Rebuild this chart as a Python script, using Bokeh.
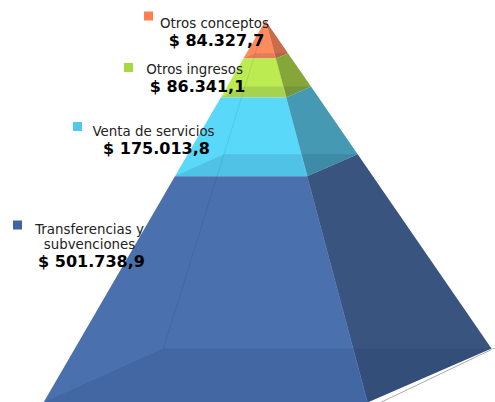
from bokeh.plotting import figure
from bokeh.embed import file_html
from bokeh.resources import INLINE
from bokeh.core.properties import value

# Data, top of the pyramid first
categories = ["Otros conceptos", "Otros ingresos", "Venta de servicios", "Transferencias y subvenciones"]
values = [84327.7, 86341.1, 175013.8, 501738.9]
value_labels = ["$ 84.327,7", "$ 86.341,1", "$ 175.013,8", "$ 501.738,9"]
front_colors = ["#FF8A5C", "#BBEB50", "#5AD8FA", "#4A70AE"]
side_colors = ["#C96C4B", "#86A63A", "#4599B2", "#39547F"]
marker_colors = ["#FF7F50", "#A8D840", "#4FC8EA", "#3F65A0"]

# Layout (page pixels)
APEX = (265, 20)
LEFT = (43, 402)
FRONT = (367, 402)
RIGHT = (491, 348)
BACK = (163, 348)
marker_x = [148, 128, 77, 17]
marker_y = [15.5, 67, 126, 224.5]
name_rows = [[("Otros conceptos", 214, 23)], [("Otros ingresos", 194, 69)],
             [("Venta de servicios", 153, 131)],
             [("Transferencias y", 89, 229), ("subvenciones", 89, 244)]]
value_pos = [(216, 40), (197, 86), (156, 148), (91, 261)]

p = figure(width=495, height=402, x_range=(0, 495), y_range=(402, 0),
           output_backend="svg", toolbar_location=None, min_border=0)
p.axis.visible = False
p.grid.visible = False
p.outline_line_color = None
p.background_fill_color = "white"


def at(corner, t):
    return (APEX[0] + t * (corner[0] - APEX[0]), APEX[1] + t * (corner[1] - APEX[1]))


total = sum(values)
fractions = []
c = 0.0
for v in values:
    fractions.append((c / total, (c + v) / total))
    c += v

# ground shadow
p.line([RIGHT[0], RIGHT[0] + 4], [RIGHT[1], RIGHT[1]], line_color="#CCCCCC", line_width=1)
p.line([RIGHT[0], FRONT[0] + 13], [RIGHT[1] + 1, FRONT[1]], line_color="#AAAAAA", line_width=1)

for i, (t0, t1) in enumerate(fractions):
    lt, ft, rt = at(LEFT, t0), at(FRONT, t0), at(RIGHT, t0)
    lb, fb, rb, bb = at(LEFT, t1), at(FRONT, t1), at(RIGHT, t1), at(BACK, t1)
    bt = at(BACK, t0)
    p.patch([lt[0], ft[0], fb[0], lb[0]], [lt[1], ft[1], fb[1], lb[1]],
            fill_color=front_colors[i], line_color=None)
    p.patch([ft[0], rt[0], rb[0], fb[0]], [ft[1], rt[1], rb[1], fb[1]],
            fill_color=side_colors[i], line_color=None)
    # inner floor of the slice seen through the translucent skin
    p.patch([lb[0], bb[0], rb[0], fb[0]], [lb[1], bb[1], rb[1], fb[1]],
            fill_color="#0A2A50", fill_alpha=0.12, line_color=None)
    # back edge and front edge seen as faint lines
    p.line([bt[0], bb[0]], [bt[1], bb[1]], line_color="#0A2A50", line_alpha=0.1, line_width=1)
    p.line([ft[0], fb[0]], [ft[1], fb[1]], line_color=front_colors[i], line_alpha=0.6, line_width=1)

for i in range(len(categories)):
    p.scatter([marker_x[i]], [marker_y[i]], marker="square", size=9,
              fill_color=marker_colors[i], line_color=None)
    for txt, x, y in name_rows[i]:
        p.text([x], [y], text=[txt], text_font=value("DejaVu Sans"), text_font_size="13.4px",
               text_color="#222222", text_align="center", text_baseline="middle")
    vx, vy = value_pos[i]
    p.text([vx], [vy], text=[value_labels[i]], text_font=value("DejaVu Sans"), text_font_size="16px",
           text_font_style="bold", text_color="#000000", text_align="center", text_baseline="middle")

open("out.html", "w").write(file_html(p, INLINE))
